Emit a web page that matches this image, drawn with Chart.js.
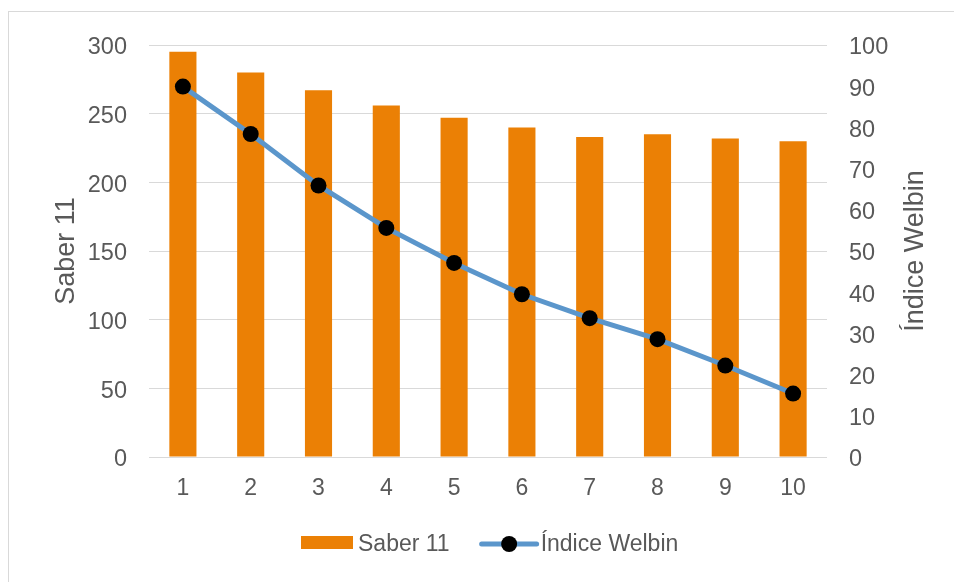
<!DOCTYPE html>
<html>
<head>
<meta charset="utf-8">
<script src="https://cdn.jsdelivr.net/npm/chart.js@4/dist/chart.umd.min.js"></script>
<style>
  html, body { margin: 0; padding: 0; background: #fff; }
  #wrap { position: absolute; left: 0; top: 0; width: 954px; height: 582px; }
</style>
</head>
<body>
<div id="wrap"><canvas id="c" width="954" height="582"></canvas></div>
<script>
const categories = ['1', '2', '3', '4', '5', '6', '7', '8', '9', '10'];
const saber11 = [295, 280, 267, 256, 247, 240, 233, 235, 232, 230];
const indiceWelbin = [89.9, 78.4, 65.9, 55.6, 47.1, 39.5, 33.7, 28.6, 22.2, 15.4];
const leftTicks = [0, 50, 100, 150, 200, 250, 300];
const rightTicks = [0, 10, 20, 30, 40, 50, 60, 70, 80, 90, 100];
const seriesNames = ['Saber 11', 'Índice Welbin'];
const axisTitles = ['Saber 11', 'Índice Welbin'];

const FONT = "'Liberation Sans', Arial, sans-serif";
const TEXT = '#595959';
const GRID = '#D9D9D9';
const ORANGE = '#EB8005';
const BLUE = '#5B96CB';

const framePlugin = {
  id: 'frame',
  beforeDraw(chart) {
    const ctx = chart.ctx;
    ctx.save();
    ctx.fillStyle = '#fff';
    ctx.fillRect(0, 0, chart.width, chart.height);
    ctx.strokeStyle = GRID;
    ctx.lineWidth = 1;
    ctx.strokeRect(8.5, 11.5, 1200, 1200);
    ctx.restore();
  },
  afterDraw(chart) {
    const ctx = chart.ctx;
    const ca = chart.chartArea;
    ctx.save();
    // right axis title, reading bottom-to-top
    ctx.translate(916, (ca.top + ca.bottom) / 2);
    ctx.rotate(-Math.PI / 2);
    ctx.font = '27px ' + FONT;
    ctx.fillStyle = TEXT;
    ctx.textAlign = 'center';
    ctx.textBaseline = 'middle';
    ctx.fillText(axisTitles[1], 0, 0);
    ctx.restore();

    // legend
    const barDs = chart.data.datasets.find(d => d.type === 'bar');
    const lineDs = chart.data.datasets.find(d => d.type === 'line');
    ctx.save();
    ctx.font = '23px ' + FONT;
    ctx.textBaseline = 'middle';
    const cy = 545;
    let x = 301;
    ctx.fillStyle = barDs.backgroundColor;
    ctx.fillRect(x, cy - 9, 52, 13);
    x += 52 + 5;
    ctx.fillStyle = TEXT;
    ctx.fillText(barDs.label, x, cy);
    x += ctx.measureText(barDs.label).width + 32;
    ctx.strokeStyle = lineDs.borderColor;
    ctx.lineWidth = 5;
    ctx.lineCap = 'round';
    ctx.beginPath();
    ctx.moveTo(x, cy - 1);
    ctx.lineTo(x + 55, cy - 1);
    ctx.stroke();
    ctx.fillStyle = '#000';
    ctx.beginPath();
    ctx.arc(x + 27.5, cy - 1, 8, 0, Math.PI * 2);
    ctx.fill();
    x += 55 + 4;
    ctx.fillStyle = TEXT;
    ctx.fillText(lineDs.label, x, cy);
    ctx.restore();
  }
};

new Chart(document.getElementById('c'), {
  data: {
    labels: categories,
    datasets: [
      {
        type: 'line',
        label: seriesNames[1],
        data: indiceWelbin,
        yAxisID: 'y1',
        borderColor: BLUE,
        borderWidth: 5,
        pointBackgroundColor: '#000',
        pointBorderColor: '#000',
        pointRadius: 8,
        pointBorderWidth: 0,
        tension: 0,
        order: 1
      },
      {
        type: 'bar',
        label: seriesNames[0],
        data: saber11,
        yAxisID: 'y',
        backgroundColor: ORANGE,
        barPercentage: 0.4,
        categoryPercentage: 1,
        order: 2
      }
    ]
  },
  options: {
    responsive: false,
    animation: false,
    layout: { padding: { top: 45, left: 0, right: 0, bottom: 0 } },
    plugins: { legend: { display: false }, tooltip: { enabled: false } },
    scales: {
      x: {
        offset: true,
        grid: { display: false, drawTicks: false },
        border: { display: false },
        ticks: { color: TEXT, font: { size: 23, family: FONT }, padding: 18, maxRotation: 0 },
        afterFit(s) { s.height = 125; }
      },
      y: {
        position: 'left',
        min: 0, max: 300,
        afterBuildTicks(s) { s.ticks = leftTicks.map(v => ({ value: v })); },
        grid: { color: GRID, lineWidth: 1, drawTicks: false },
        border: { display: false },
        ticks: { color: TEXT, font: { size: 23.5, family: FONT }, padding: 22, labelOffset: 3 },
        title: { display: true, text: axisTitles[0], color: TEXT, font: { size: 27, family: FONT }, padding: { top: 50, bottom: 0 } },
        afterFit(s) { s.width = 149; }
      },
      y1: {
        position: 'right',
        min: 0, max: 100,
        afterBuildTicks(s) { s.ticks = rightTicks.map(v => ({ value: v })); },
        grid: { display: false, drawTicks: false },
        border: { display: false },
        ticks: { color: TEXT, font: { size: 23.5, family: FONT }, padding: 22, labelOffset: 3 },
        title: { display: false, text: axisTitles[1] },
        afterFit(s) { s.width = 127; }
      }
    }
  },
  plugins: [framePlugin]
});
</script>
</body>
</html>
